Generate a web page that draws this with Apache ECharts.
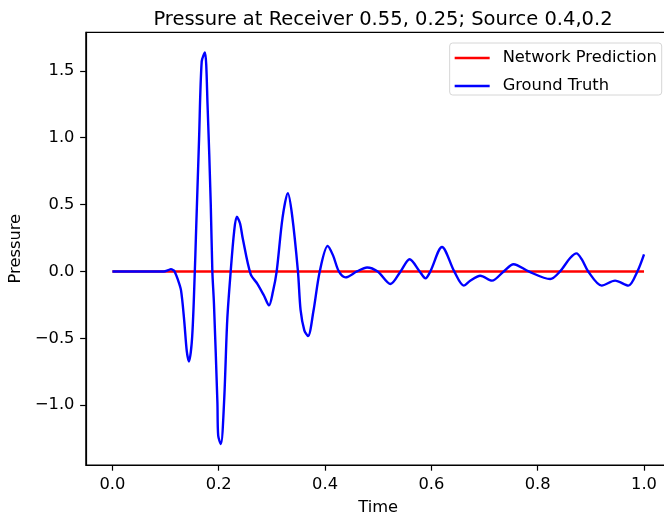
<!DOCTYPE html>
<html>
<head>
<meta charset="utf-8">
<script src="https://cdn.jsdelivr.net/npm/echarts@6/dist/echarts.min.js"></script>
<style>
html,body{margin:0;padding:0;background:#fff;overflow:hidden}
#wrap{position:relative;width:664px;height:521px;overflow:hidden}
#c{position:absolute;left:0;top:0;width:671px;height:521px}
</style>
</head>
<body>
<div id="wrap"><div id="c"></div></div>
<script>
// ---- data ----
var predTime = [0.0, 1.0];
var predValue = [0.0, 0.0];

var truthTime = [0, 0.05, 0.097, 0.105, 0.11, 0.115, 0.117, 0.123, 0.129, 0.135, 0.14, 0.144, 0.15, 0.155, 0.157, 0.163, 0.168, 0.174, 0.179, 0.185, 0.188, 0.191, 0.1975, 0.199, 0.204, 0.21, 0.216, 0.2225, 0.229, 0.234, 0.24, 0.245, 0.26, 0.273, 0.285, 0.2945, 0.302, 0.309, 0.32, 0.33, 0.338, 0.349, 0.354, 0.361, 0.368, 0.378, 0.39, 0.405, 0.415, 0.426, 0.4385, 0.46, 0.479, 0.499, 0.523, 0.542, 0.559, 0.578, 0.589, 0.598, 0.62, 0.643, 0.661, 0.673, 0.692, 0.714, 0.736, 0.7545, 0.783, 0.8235, 0.842, 0.861, 0.873, 0.883, 0.895, 0.9205, 0.9455, 0.9705, 0.9875, 1.0];
var truthValue = [0, 0, 0, 0.01, 0.017, 0.008, 0, -0.06, -0.14, -0.365, -0.6, -0.673, -0.49, 0, 0.25, 0.99, 1.57, 1.637, 1.24, 0.5, 0, -0.24, -0.98, -1.228, -1.29, -0.98, -0.365, 0, 0.3, 0.41, 0.36, 0.25, -0.02, -0.094, -0.18, -0.254, -0.15, 0, 0.4, 0.584, 0.42, 0, -0.29, -0.44, -0.483, -0.3, 0, 0.19, 0.12, 0, -0.044, 0, 0.03, 0, -0.094, 0, 0.091, 0, -0.052, 0, 0.183, 0, -0.106, -0.069, -0.032, -0.069, 0, 0.054, 0, -0.057, 0, 0.1, 0.135, 0.09, 0, -0.106, -0.069, -0.106, 0, 0.128];

var xTicks = [0, 0.2, 0.4, 0.6, 0.8, 1.0];
var yTicks = [-1.0, -0.5, 0, 0.5, 1.0, 1.5];

var chartTitle = 'Pressure at Receiver 0.55, 0.25; Source 0.4,0.2';
var seriesNames = ['Network Prediction', 'Ground Truth'];

function zip(a, b) { return a.map(function (v, i) { return [v, b[i]]; }); }
function fmt(v) { var s = Math.abs(v).toFixed(1); return v < 0 ? '\u2212' + s : s; }

var FONT = 'DejaVu Sans';
var FS = 16.3;
var chart = echarts.init(document.getElementById('c'), null, {renderer: 'canvas', width: 671, height: 521});
chart.setOption({
  animation: false,
  backgroundColor: '#ffffff',
  textStyle: {fontFamily: FONT},
  title: {
    text: chartTitle, left: 378, top: 5, textAlign: 'center',
    textStyle: {fontFamily: FONT, fontSize: 19.5, fontWeight: 'normal', color: '#000'}
  },
  legend: {
    data: seriesNames, orient: 'vertical', right: 9.3, top: 43,
    icon: 'rect', itemWidth: 35, itemHeight: 2.4, itemGap: 12,
    backgroundColor: '#ffffff', borderColor: '#d6d6d6', borderWidth: 1, borderRadius: 3,
    padding: [7, 5, 1, 5],
    textStyle: {fontFamily: FONT, fontSize: FS, lineHeight: 16, color: '#000', padding: [0, 0, 0, 8]}
  },
  grid: {
    left: 85, top: 32.4, right: 0.4, bottom: 51.4,
    show: true, borderColor: '#000', borderWidth: 1.2, backgroundColor: 'transparent'
  },
  xAxis: {
    type: 'value', min: -0.05, max: 1.05,
    name: 'Time', nameLocation: 'middle', nameGap: 35,
    nameTextStyle: {fontFamily: FONT, fontSize: FS, color: '#000'},
    axisLine: {show: true, onZero: false, lineStyle: {color: '#000', width: 1.2}},
    axisTick: {show: true, inside: false, length: 5.7, customValues: xTicks, lineStyle: {color: '#000', width: 1.2}},
    axisLabel: {customValues: xTicks, margin: 11.4, fontFamily: FONT, fontSize: FS, color: '#000',
      formatter: function (v) { return fmt(v); }},
    splitLine: {show: false}
  },
  yAxis: {
    type: 'value', min: -1.447, max: 1.787,
    name: 'Pressure', nameLocation: 'middle', nameGap: 59, nameRotate: 90,
    nameTextStyle: {fontFamily: FONT, fontSize: FS, color: '#000'},
    axisLine: {show: true, onZero: false, lineStyle: {color: '#000', width: 1.2}},
    axisTick: {show: true, inside: false, length: 5.7, customValues: yTicks, lineStyle: {color: '#000', width: 1.2}},
    axisLabel: {customValues: yTicks, margin: 11.4, fontFamily: FONT, fontSize: FS, color: '#000',
      formatter: function (v) { return fmt(v); }},
    splitLine: {show: false}
  },
  series: [
    {
      name: seriesNames[0], type: 'line', data: zip(predTime, predValue),
      showSymbol: false, symbol: 'none', color: '#ff0000',
      lineStyle: {color: '#ff0000', width: 2.4}, z: 2
    },
    {
      name: seriesNames[1], type: 'line', data: zip(truthTime, truthValue),
      showSymbol: false, symbol: 'none', color: '#0000ff', smooth: 0.3,
      lineStyle: {color: '#0000ff', width: 2.4}, z: 3
    }
  ]
});
</script>
</body>
</html>
